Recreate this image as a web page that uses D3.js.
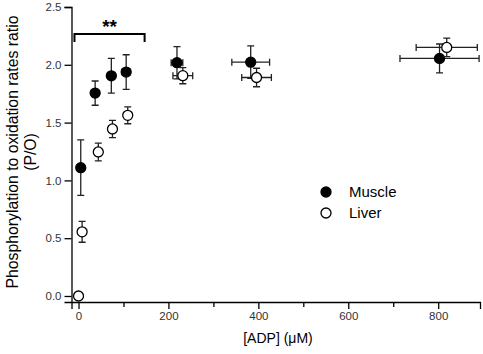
<!DOCTYPE html>
<html>
<head>
<meta charset="utf-8">
<script src="https://cdn.jsdelivr.net/npm/d3@7"></script>
<style>
  body { margin: 0; background: #fff; }
  svg { font-family: "Liberation Sans", Arial, sans-serif; }
</style>
</head>
<body>
<div id="chart"></div>
<script>
// Muscle series: ADP (uM), P/O ratio, errors
var muscleX = [5, 37, 73, 106, 219, 383, 803];
var muscleY = [1.11, 1.755, 1.905, 1.937, 2.018, 2.023, 2.055];
var muscleXErr = [0, 0, 0, 9, 13, 42, 88];
var muscleYErr = [0.24, 0.105, 0.15, 0.15, 0.14, 0.14, 0.125];

// Liver series
var liverX = [0, 8, 44, 75.5, 109.5, 232, 396, 819];
var liverY = [0, 0.555, 1.246, 1.445, 1.563, 1.906, 1.89, 2.15];
var liverXErr = [0, 0, 0, 0, 0, 22, 33, 68];
var liverYErr = [0, 0.09, 0.077, 0.075, 0.073, 0.07, 0.08, 0.08];

var xTicks = [0, 200, 400, 600, 800];
var xMinorTicks = [100, 300, 500, 700];
var yTicks = [0, 0.5, 1.0, 1.5, 2.0, 2.5];
var bracketRange = [-9, 147];

var width = 483, height = 354;

var svg = d3.select('#chart').append('svg')
    .attr('width', width)
    .attr('height', height);

var x = d3.scaleLinear().domain([-15.6, 893]).range([71.5, 480]);
var y = d3.scaleLinear().domain([-0.052, 2.5]).range([302, 7]);

// axes
svg.append('g')
    .attr('transform', 'translate(0,302)')
    .call(d3.axisBottom(x).tickValues(xTicks).tickSize(7).tickPadding(3).tickFormat(d3.format('d')));
svg.append('g')
    .attr('transform', 'translate(0,302)')
    .call(d3.axisBottom(x).tickValues(xMinorTicks).tickSize(5).tickFormat(''))
    .select('.domain').remove();

svg.append('g')
    .attr('transform', 'translate(71.5,0)')
    .call(d3.axisLeft(y).tickValues(yTicks).tickSize(7).tickPadding(3).tickFormat(d3.format('.1f')));

svg.selectAll('.domain').attr('stroke', '#000').attr('stroke-width', 1.3);
svg.selectAll('.tick line').attr('stroke', '#000').attr('stroke-width', 1.3);
svg.selectAll('.tick text').attr('font-size', 11.5).attr('fill', '#333');

// axis titles
svg.append('text')
    .attr('x', 278).attr('y', 343)
    .attr('text-anchor', 'middle')
    .attr('font-size', 14)
    .text('[ADP] (μM)');

var yTitle = svg.append('text')
    .attr('transform', 'translate(18,152) rotate(-90)')
    .attr('text-anchor', 'middle')
    .attr('font-size', 15.8);
yTitle.append('tspan').attr('x', 0).attr('dy', 0).text('Phosphorylation to oxidation rates ratio');
yTitle.append('tspan').attr('x', 0).attr('dy', 18).text('(P/O)');

// significance bracket
var by = 34;
svg.append('path')
    .attr('d', 'M' + x(bracketRange[0]) + ',' + (by + 8) + 'V' + by + 'H' + x(bracketRange[1]) + 'V' + (by + 8))
    .attr('fill', 'none')
    .attr('stroke', '#000')
    .attr('stroke-width', 2);
svg.append('text')
    .attr('x', (x(bracketRange[0]) + x(bracketRange[1])) / 2)
    .attr('y', 33)
    .attr('text-anchor', 'middle')
    .attr('font-size', 19)
    .attr('font-weight', 'bold')
    .text('**');

function drawSeries(xs, ys, xe, ye, fill) {
    var data = xs.map(function (d, i) {
        return { x: d, y: ys[i], xe: xe[i], ye: ye[i] };
    });
    var g = svg.append('g');
    var cap = 3.5;
    data.forEach(function (d) {
        var px = x(d.x), py = y(d.y);
        var path = '';
        if (d.ye > 0) {
            var t = y(d.y + d.ye), b = y(d.y - d.ye);
            path += 'M' + px + ',' + t + 'V' + b;
            path += 'M' + (px - cap) + ',' + t + 'H' + (px + cap);
            path += 'M' + (px - cap) + ',' + b + 'H' + (px + cap);
        }
        if (d.xe > 0) {
            var l = x(d.x - d.xe), r = x(d.x + d.xe);
            path += 'M' + l + ',' + py + 'H' + r;
            path += 'M' + l + ',' + (py - cap) + 'V' + (py + cap);
            path += 'M' + r + ',' + (py - cap) + 'V' + (py + cap);
        }
        if (path) {
            g.append('path').attr('d', path)
                .attr('fill', 'none').attr('stroke', '#222').attr('stroke-width', 1.3);
        }
    });
    g.selectAll('circle')
        .data(data)
        .enter()
        .append('circle')
        .attr('cx', function (d) { return x(d.x); })
        .attr('cy', function (d) { return y(d.y); })
        .attr('r', 5)
        .attr('fill', fill)
        .attr('stroke', '#000')
        .attr('stroke-width', 1.3);
}

drawSeries(muscleX, muscleY, muscleXErr, muscleYErr, '#000');
drawSeries(liverX, liverY, liverXErr, liverYErr, '#fff');

// legend
var legend = svg.append('g').attr('transform', 'translate(326,192)');
var items = [['Muscle', '#000'], ['Liver', '#fff']];
items.forEach(function (it, i) {
    legend.append('circle')
        .attr('cx', 0).attr('cy', i * 21)
        .attr('r', 5)
        .attr('fill', it[1])
        .attr('stroke', '#000')
        .attr('stroke-width', 1.3);
    legend.append('text')
        .attr('x', 23).attr('y', i * 21 + 5)
        .attr('font-size', 15)
        .text(it[0]);
});
</script>
</body>
</html>
